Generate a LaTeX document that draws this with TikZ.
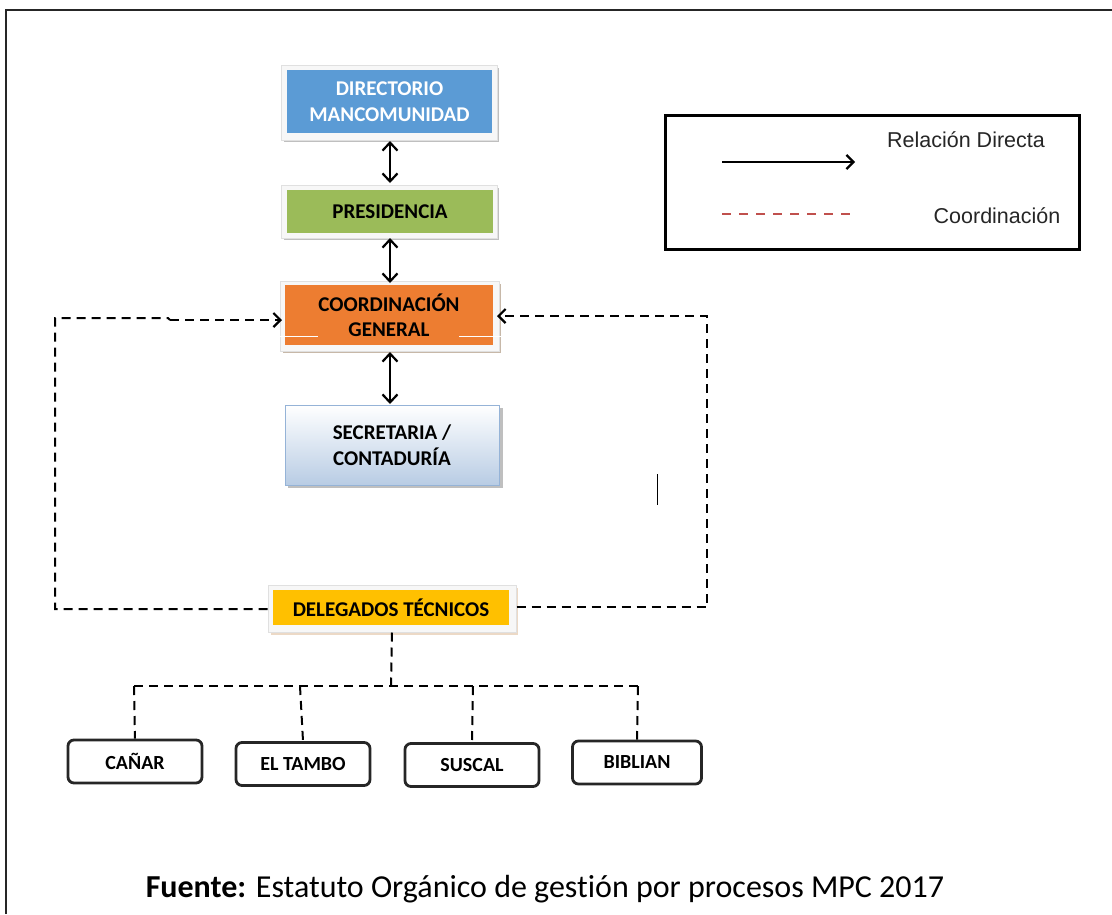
\documentclass[tikz,border=0pt]{standalone}
\usepackage{fontspec}
\setmainfont{Carlito}[Ligatures=NoCommon]
\newfontfamily\arialf{Liberation Sans}
\usetikzlibrary{arrows.meta,calc}
\definecolor{dirblue}{HTML}{5B9BD5}
\definecolor{presgreen}{HTML}{9BBB59}
\definecolor{coordorange}{HTML}{ED7D31}
\definecolor{delyellow}{HTML}{FFC000}
\definecolor{secblue}{HTML}{B8CCE4}
\definecolor{secborder}{HTML}{95B3D7}
\definecolor{legred}{HTML}{C0504D}
\tikzset{
  glow/.style={draw=black!12, fill=black!3, line width=1pt, inner sep=0pt},
  fillbox/.style={draw=none, inner sep=0pt, align=center, font=\fontsize{21}{25.5}\selectfont\bfseries},
  towns/.style={draw=black!85, line width=2.8pt, rounded corners=6pt, fill=white, inner sep=0pt,
    font=\fontsize{20}{22}\selectfont\bfseries},
  dbl/.style={line width=2.2pt, {Straight Barb[length=8pt,width=15pt,line width=2.2pt]}-{Straight Barb[length=8pt,width=15pt,line width=2.2pt]}},
  coordline/.style={line width=2pt, dash pattern=on 9pt off 6pt},
  coordarrow/.style={coordline, -{Straight Barb[length=7pt,width=14pt,line width=2.2pt]}},
}
\begin{document}
\begin{tikzpicture}[x=1pt,y=-1pt]
\useasboundingbox (0,0) rectangle (1112,914);
\fill[white] (0,0) rectangle (1112,914);
% outer frame
\draw[black!85, line width=1.5pt] (6,914) -- (6,10) -- (1112,10);

% DIRECTORIO
\fill[black!25] (284,68) rectangle (499,142);
\node[glow, minimum width=216pt, minimum height=75pt] (dir) at (389,102.5) {};
\node[fillbox, fill=dirblue, text=white, minimum width=205pt, minimum height=63pt] (dirT) at (389.5,101.5) {DIRECTORIO\\MANCOMUNIDAD};

% PRESIDENCIA
\fill[black!25] (284,188) rectangle (499,240);
\node[glow, minimum width=216pt, minimum height=53pt] (pres) at (389,211.5) {};
\node[fillbox, fill=presgreen, text=black, minimum width=206pt, minimum height=43pt] (presT) at (390,211.5) {PRESIDENCIA};

% COORDINACION
\fill[brown!60!black!40] (283,284) rectangle (501,353);
\node[glow, minimum width=219pt, minimum height=70pt] (coord) at (389.5,316) {};
\node[fillbox, fill=coordorange, text=black, minimum width=208pt, minimum height=60pt] (coordT) at (389,315) {COORDINACIÓN\\GENERAL};
\draw[white, line width=1pt] (278,336) -- (318,336);
\draw[white, line width=1pt] (459,336) -- (502,336);

% SECRETARIA
\fill[black!25] (288,408) rectangle (503,488);
\node[fillbox, draw=secborder, line width=1pt, top color=white, bottom color=secblue, text=black, minimum width=214pt, minimum height=80pt] (sec) at (392,445) {SECRETARIA /\\CONTADURÍA};

% DELEGADOS
\fill[brown!30] (271,588) rectangle (518,635);
\node[glow, minimum width=248pt, minimum height=47pt] (del) at (392,608.5) {};
\node[fillbox, fill=delyellow, text=black, minimum width=236pt, minimum height=35pt] (delT) at (391,607.5) {DELEGADOS TÉCNICOS};

% direct relations
\draw[dbl] (390,141) -- (390,183);
\draw[dbl] (390,238) -- (390,283);
\draw[dbl] (390,352) -- (390,404);

% coordination loops
\coordinate (lb) at (55,609);
\coordinate (lt) at (55,318);
\coordinate (lk1) at (168,318);
\coordinate (lk2) at (170,320);
\coordinate (la) at (282,320);
\draw[coordline] (del.west |- lb) -- (lb) -- (lt) -- (lk1) -- (lk2);
\draw[coordarrow] (lk2) -- (la);
\coordinate (rb) at (707,607);
\coordinate (rt) at (707,316);
\coordinate (ra) at (497,316);
\draw[coordarrow] (del.east |- rb) -- (rb) -- (rt) -- (ra);
% stray mark
\draw[black, line width=1pt] (657,474) -- (657,505);

% towns
\node[towns, minimum width=134pt, minimum height=43pt] (canar) at (135,761.5) {CAÑAR};
\node[towns, minimum width=134pt, minimum height=43pt] (tambo) at (303,764) {EL TAMBO};
\node[towns, minimum width=134pt, minimum height=43pt] (suscal) at (472,765) {SUSCAL};
\node[towns, minimum width=129pt, minimum height=43pt] (biblian) at (637,762.5) {BIBLIAN};

\coordinate (tj) at (391,686);
\coordinate (th1) at (134,686);
\coordinate (th2) at (300,686);
\coordinate (th3) at (473,686);
\coordinate (th4) at (638,686);
\draw[coordline] (del.south) -- (tj);
\draw[coordline] (th1) -- (th4);
\draw[coordline] (th1) -- (canar.north);
\draw[coordline] (th2) -- (tambo.north);
\draw[coordline] (th3) -- (suscal.north);
\draw[coordline] (th4) -- (biblian.north);

% legend
\node[draw=black, line width=3pt, minimum width=414pt, minimum height=134pt, inner sep=0pt] (leg) at (872.5,182.5) {};
\coordinate (a1) at (722,162);
\coordinate (a2) at (855,162);
\draw[line width=2pt, -{Straight Barb[length=7pt,width=14pt,line width=2.2pt]}] (a1) -- (a2);
\coordinate (d1) at (722,214);
\coordinate (d2) at (855,214);
\draw[legred, line width=2pt, dash pattern=on 9pt off 8pt] (d1) -- (d2);
\node[font=\arialf\fontsize{21.5}{24}\selectfont, text=black!85, inner sep=0pt] (legT1) at (966,140) {Relación Directa};
\node[font=\arialf\fontsize{21.5}{24}\selectfont, text=black!85, inner sep=0pt] (legT2) at (997,216) {Coordinación};

% source
\node[font=\fontsize{32}{36}\selectfont, inner sep=0pt] (src) at (545,889) {\textbf{Fuente:} Estatuto Orgánico de gestión por procesos MPC 2017};
\end{tikzpicture}
\end{document}
